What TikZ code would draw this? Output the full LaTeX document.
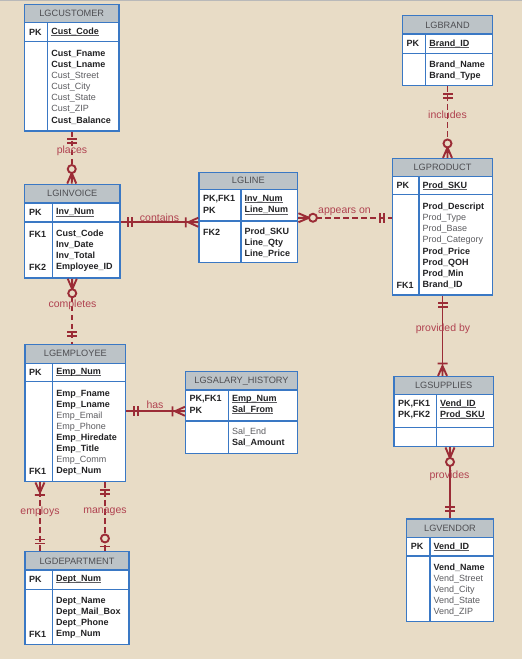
\documentclass[tikz,border=0pt]{standalone}
\usepackage{fontspec}
\setmainfont{Liberation Sans}
\usetikzlibrary{calc}

\definecolor{bgbeige}{RGB}{232,220,198}
\definecolor{entblue}{RGB}{58,120,196}
\definecolor{hdgray}{RGB}{188,195,199}
\definecolor{relred}{RGB}{155,44,54}
\definecolor{lblred}{RGB}{176,66,80}
\definecolor{txtdark}{RGB}{34,34,36}
\definecolor{txtgray}{RGB}{92,92,96}

\tikzstyle{entline}=[draw=entblue, line width=1.5pt]
\tikzstyle{hdtext}=[font=\fontsize{9.2}{11}\selectfont, text=txtgray!85!black, inner sep=0pt]
\tikzstyle{keytxt}=[anchor=west, inner sep=0pt, font=\fontsize{9}{11}\selectfont\bfseries, text=txtdark]
\tikzstyle{attrb}=[keytxt]
\tikzstyle{attrn}=[anchor=west, inner sep=0pt, font=\fontsize{9}{11}\selectfont, text=txtgray]
\tikzstyle{rel}=[draw=relred, line width=1.9pt]
\tikzstyle{nonid}=[rel, dash pattern=on 5.5pt off 3.5pt]
\tikzstyle{rlabel}=[font=\fontsize{10.5}{12}\selectfont, text=lblred, inner sep=0pt]

\tikzset{
  mandone/.pic={\draw[rel] (7.5,-5) -- (7.5,5) (11.5,-5) -- (11.5,5);},
  zeroone/.pic={\draw[rel] (4.5,-5) -- (4.5,5); \draw[rel, fill=bgbeige] (12.5,0) circle (4pt);},
  zeromany/.pic={\draw[rel] (0,-4.5) -- (10.5,0) -- (0,4.5) (0,0) -- (10.5,0); \draw[rel, fill=bgbeige] (14.5,0) circle (4pt);},
  onemany/.pic={\draw[rel] (0,-4.5) -- (10,0) -- (0,4.5) (0,0) -- (10,0) (12.5,-5) -- (12.5,5);},
}

% underlined key name, line kept close to the baseline
\newcommand{\keyname}[1]{\leavevmode\setbox0\hbox{#1}\rlap{\color{txtgray}\rule[-1.4pt]{\wd0}{0.7pt}}\box0}

% name, title, left, top, right, header bottom, key bottom, bottom, divider
\newcommand{\entbox}[9]{%
  \fill[hdgray] (#3,#4) rectangle (#5,#6);
  \fill[white] (#3,#6) rectangle (#5,#8);
  \draw[entline] (#3,#6) -- (#5,#6) (#3,#7) -- (#5,#7) (#9,#6) -- (#9,#8);
  \node[entline, inner sep=0pt, minimum width={(#5-#3)*1pt}, minimum height={(#8-#4)*1pt}] (#1) at ({(#3+#5)/2},{(#4+#8)/2}) {};
  \node[hdtext] (#1-t) at ({(#3+#5)/2},{(#4+#6)/2}) {#2};
}
% name, x, first line, list of style/text
\newcommand{\attrs}[4]{%
  \foreach \s/\t [count=\i from 0] in {#4} {\node[attr\s] (#1-a\i) at (#2,{#3+\i*11.1}) {\t};}
}

\begin{document}
\begin{tikzpicture}[x=1pt,y=-1pt]
  \useasboundingbox (0,0) rectangle (522,659);
  \fill[bgbeige] (0,0) rectangle (522,659);
  \fill[gray!55] (0,0) rectangle (522,1.3);

  % LGCUSTOMER
  \entbox{cust}{LGCUSTOMER}{24.5}{4.5}{119}{22.5}{41.7}{131}{47.7}
  \node[keytxt] (cust-k) at (29,32.1) {PK};
  \node[attrb] (cust-p) at (51.2,32.1) {\keyname{Cust\_Code}};
  \attrs{cust}{51.2}{54}{b/Cust\_Fname,b/Cust\_Lname,n/Cust\_Street,n/Cust\_City,n/Cust\_State,n/Cust\_ZIP,b/Cust\_Balance}

  % LGINVOICE
  \entbox{inv}{LGINVOICE}{24.5}{184.3}{120}{203}{222}{278}{52.3}
  \node[keytxt] (inv-k) at (29,212.5) {PK};
  \node[attrb] (inv-p) at (56,212.5) {\keyname{Inv\_Num}};
  \node[keytxt] (inv-f1) at (29,234) {FK1};
  \node[keytxt] (inv-f2) at (29,267.3) {FK2};
  \attrs{inv}{56}{234}{b/Cust\_Code,b/Inv\_Date,b/Inv\_Total,b/Employee\_ID}

  % LGLINE
  \entbox{line}{LGLINE}{199}{172.3}{297.7}{189.3}{221}{262.7}{241}
  \node[keytxt] (line-k1) at (203,199.3) {PK,FK1};
  \node[keytxt] (line-k2) at (203,210.4) {PK};
  \node[attrb] (line-p1) at (244.5,199.3) {\keyname{Inv\_Num}};
  \node[attrb] (line-p2) at (244.5,210.4) {\keyname{Line\_Num}};
  \node[keytxt] (line-f2) at (203,232) {FK2};
  \attrs{line}{244.5}{232}{b/Prod\_SKU,b/Line\_Qty,b/Line\_Price}

  % LGBRAND
  \entbox{brand}{LGBRAND}{402.3}{15.7}{492.7}{34}{53.3}{85.7}{425.7}
  \node[keytxt] (brand-k) at (406.5,43.5) {PK};
  \node[attrb] (brand-p) at (429.2,43.5) {\keyname{Brand\_ID}};
  \attrs{brand}{429.2}{65}{b/Brand\_Name,b/Brand\_Type}

  % LGPRODUCT
  \entbox{prod}{LGPRODUCT}{392.3}{158.7}{492.7}{176.7}{194.3}{295}{419}
  \node[keytxt] (prod-k) at (396.3,185.5) {PK};
  \node[attrb] (prod-p) at (422.5,185.5) {\keyname{Prod\_SKU}};
  \node[keytxt] (prod-f1) at (396.3,285) {FK1};
  \attrs{prod}{422.5}{207.3}{b/Prod\_Descript,n/Prod\_Type,n/Prod\_Base,n/Prod\_Category,b/Prod\_Price,b/Prod\_QOH,b/Prod\_Min,b/Brand\_ID}

  % LGSUPPLIES
  \entbox{sup}{LGSUPPLIES}{394}{376.7}{493.3}{394.3}{427.3}{446.7}{436.7}
  \node[keytxt] (sup-k1) at (398,404) {PK,FK1};
  \node[keytxt] (sup-k2) at (398,415.1) {PK,FK2};
  \node[attrb] (sup-p1) at (440,404) {\keyname{Vend\_ID}};
  \node[attrb] (sup-p2) at (440,415.1) {\keyname{Prod\_SKU}};

  % LGVENDOR
  \entbox{vend}{LGVENDOR}{406.7}{519}{493.3}{537.7}{556}{621.7}{430}
  \node[keytxt] (vend-k) at (410.7,546.5) {PK};
  \node[attrb] (vend-p) at (433.5,546.5) {\keyname{Vend\_ID}};
  \attrs{vend}{433.5}{567.7}{b/Vend\_Name,n/Vend\_Street,n/Vend\_City,n/Vend\_State,n/Vend\_ZIP}

  % LGEMPLOYEE
  \entbox{emp}{LGEMPLOYEE}{25}{344.3}{125.7}{363.3}{381.7}{481.7}{52.7}
  \node[keytxt] (emp-k) at (29,372.5) {PK};
  \node[attrb] (emp-p) at (56.2,372.5) {\keyname{Emp\_Num}};
  \node[keytxt] (emp-f1) at (29,471.7) {FK1};
  \attrs{emp}{56.2}{394}{b/Emp\_Fname,b/Emp\_Lname,n/Emp\_Email,n/Emp\_Phone,b/Emp\_Hiredate,b/Emp\_Title,n/Emp\_Comm,b/Dept\_Num}

  % LGSALARY_HISTORY
  \entbox{sal}{LGSALARY\_HISTORY}{185.7}{371.7}{297.3}{390}{421}{453.3}{228.3}
  \node[keytxt] (sal-k1) at (189.5,399) {PK,FK1};
  \node[keytxt] (sal-k2) at (189.5,410.1) {PK};
  \node[attrb] (sal-p1) at (231.8,399) {\keyname{Emp\_Num}};
  \node[attrb] (sal-p2) at (231.8,410.1) {\keyname{Sal\_From}};
  \attrs{sal}{231.8}{432}{n/Sal\_End,b/Sal\_Amount}

  % LGDEPARTMENT
  \entbox{dept}{LGDEPARTMENT}{25}{551.7}{129}{570}{589.3}{644.3}{52.3}
  \node[keytxt] (dept-k) at (29,579.5) {PK};
  \node[attrb] (dept-p) at (56,579.5) {\keyname{Dept\_Num}};
  \node[keytxt] (dept-f1) at (29,634.3) {FK1};
  \attrs{dept}{56}{601}{b/Dept\_Name,b/Dept\_Mail\_Box,b/Dept\_Phone,b/Emp\_Num}

  % relationships
  \draw[nonid] (cust.south) -- (cust.south |- inv.north) coordinate (pl);
  \pic[rotate=-90] at (cust.south) {mandone};
  \pic[rotate=90] at (pl) {zeromany};
  \node[rlabel] (places) at (72,150.5) {places};

  \draw[rel] ($(inv.north east)+(0,38.7)$) coordinate (ci) -- (ci -| line.west) coordinate (cl);
  \pic at (ci) {mandone};
  \pic[rotate=180] at (cl) {onemany};
  \node[rlabel] (contains) at (159.5,217.5) {contains};

  \draw[nonid] ($(line.north east)+(0,46.2)$) coordinate (al) -- (al -| prod.west) coordinate (ap);
  \pic at (al) {zeromany};
  \pic[rotate=180] at (ap) {mandone};
  \node[rlabel] (appears) at (344.5,211.5) {appears on};

  \draw[nonid] (brand.south) -- (brand.south |- prod.north) coordinate (ip);
  \pic[rotate=-90] at (brand.south) {mandone};
  \pic[rotate=90] at (ip) {zeromany};
  \node[rlabel] (includes) at (447.5,115) {includes};

  \draw[rel] (prod.south) -- (prod.south |- sup.north) coordinate (ps);
  \pic[rotate=-90] at (prod.south) {mandone};
  \pic[rotate=90] at (ps) {onemany};
  \node[rlabel] (provby) at (443,329) {provided by};

  \draw[rel] (vend.north |- sup.south) coordinate (vs) -- (vend.north);
  \pic[rotate=-90] at (vs) {zeromany};
  \pic[rotate=90] at (vend.north) {mandone};
  \node[rlabel] (provides) at (449.5,475.5) {provides};

  \draw[nonid] (inv.south) -- (inv.south |- emp.north) coordinate (ie);
  \pic[rotate=-90] at (inv.south) {zeromany};
  \pic[rotate=90] at (ie) {mandone};
  \node[rlabel] (completes) at (72.5,304.5) {completes};

  \draw[rel] ($(emp.north east)+(0,67.7)$) coordinate (he) -- (he -| sal.west) coordinate (hs);
  \pic at (he) {mandone};
  \pic[rotate=180] at (hs) {onemany};
  \node[rlabel] (has) at (155,405) {has};

  \draw[nonid] ($(emp.south west)+(15.7,0)$) coordinate (ee) -- (ee |- dept.north) coordinate (ed);
  \pic[rotate=-90] at (ee) {onemany};
  \pic[rotate=90] at (ed) {mandone};
  \node[rlabel] (employs) at (40,511.5) {employs};

  \draw[nonid] ($(emp.south west)+(80.7,0)$) coordinate (me) -- (me |- dept.north) coordinate (md);
  \pic[rotate=-90] at (me) {mandone};
  \pic[rotate=90] at (md) {zeroone};
  \node[rlabel] (manages) at (105,511.5) {manages};
\end{tikzpicture}
\end{document}
